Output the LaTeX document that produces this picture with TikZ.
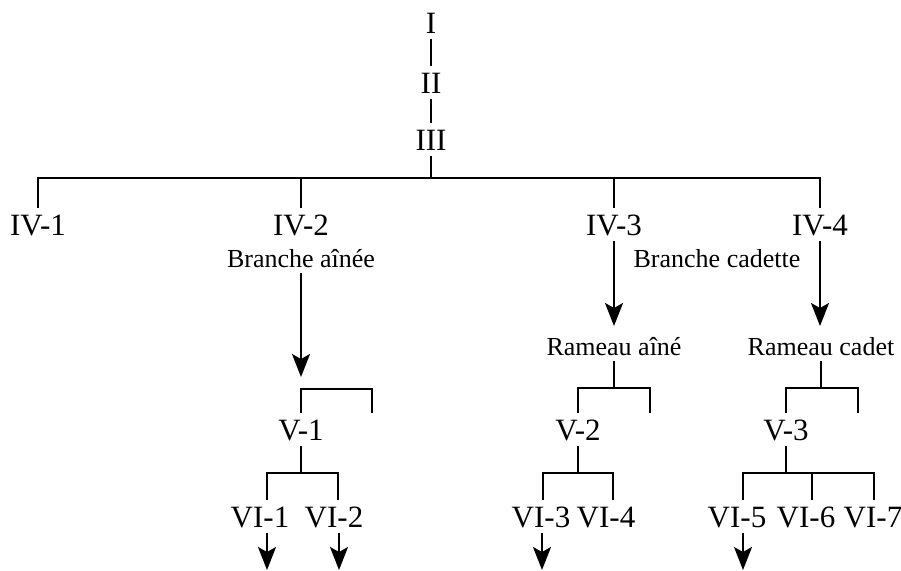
\documentclass[tikz,border=0pt]{standalone}
\usepackage{fontspec}
\setmainfont{Liberation Serif}
\usetikzlibrary{arrows.meta}
\begin{document}
\begin{tikzpicture}[x=1pt,y=-1pt,line width=2pt,
  big/.style={font=\fontsize{31}{31}\selectfont,anchor=base,text height=21pt,text depth=0pt,inner xsep=0pt,inner ysep=5pt},
  small/.style={font=\fontsize{26}{26}\selectfont,anchor=base,text height=18pt,text depth=0pt,inner xsep=0pt,inner ysep=5pt},
  arr/.style={-{Stealth[length=23pt,width=18pt,inset=5pt]}}]
\useasboundingbox (0,0) rectangle (901,570);

% trunk
\node[big] (g1) at (431,33) {I};
\node[big] (g2) at (431,93) {II};
\node[big] (g3) at (431,150) {III};
\draw (g1.south) -- (g2.north);
\draw (g2.south) -- (g3.north);

% fourth generation
\coordinate (t1) at (38,178);
\coordinate (t4) at (820,178);
\node[big] (iv1) at (38,235) {IV-1};
\node[big] (iv2) at (301,235) {IV-2};
\node[big] (iv3) at (614,235) {IV-3};
\node[big] (iv4) at (820,235) {IV-4};
\draw (g3.south) -- (g3.south |- t1);
\draw (iv1.north) -- (t1) -- (t4) -- (iv4.north);
\draw (iv2.north) -- (iv2.north |- t1);
\draw (iv3.north) -- (iv3.north |- t1);

% branches
\node[small] (ba) at (301,267) {Branche aînée};
\node[small] (bc) at (717,267) {Branche cadette};
\coordinate (baend) at (301,377);
\draw[arr] (ba.south) -- (baend);

\node[small] (ra) at (614,355) {Rameau aîné};
\node[small] (rc) at (821,355) {Rameau cadet};
\draw[arr,shorten >=5pt] (iv3.south) -- (iv3.south |- ra.north);
\draw[arr,shorten >=5pt] (iv4.south) -- (iv4.south |- rc.north);

% fifth generation
\node[big] (v1) at (301,440) {V-1};
\node[big] (v2) at (578,440) {V-2};
\node[big] (v3) at (786,440) {V-3};

\coordinate (k1) at (301,389); \coordinate (k2) at (372,389);
\draw (v1.north) -- (k1) -- (k2) -- (k2 |- v1.north);

\coordinate (k3) at (578,388); \coordinate (k4) at (650,388);
\draw (v2.north) -- (k3) -- (k4) -- (k4 |- v2.north);
\draw (ra.south) -- (ra.south |- k3);

\coordinate (k5) at (786,388); \coordinate (k6) at (858,388);
\draw (v3.north) -- (k5) -- (k6) -- (k6 |- v3.north);
\draw (rc.south) -- (rc.south |- k5);

% sixth generation
\node[big] (vi1) at (260,527) {VI-1};
\node[big] (vi2) at (334,527) {VI-2};
\node[big] (vi3) at (541,527) {VI-3};
\node[big] (vi4) at (606,527) {VI-4};
\node[big] (vi5) at (737,527) {VI-5};
\node[big] (vi6) at (806,527) {VI-6};
\node[big] (vi7) at (873,527) {VI-7};

\coordinate (c1) at (267,473); \coordinate (c2) at (338,473);
\draw (v1.south) -- (v1.south |- c1);
\draw (c1 |- vi1.north) -- (c1) -- (c2) -- (c2 |- vi2.north);

\coordinate (c3) at (543,473); \coordinate (c4) at (613,473);
\draw (v2.south) -- (v2.south |- c3);
\draw (c3 |- vi3.north) -- (c3) -- (c4) -- (c4 |- vi4.north);

\coordinate (c5) at (743,473); \coordinate (c6) at (812,473); \coordinate (c7) at (874,473);
\draw (v3.south) -- (v3.south |- c5);
\draw (c5 |- vi5.north) -- (c5) -- (c7) -- (c7 |- vi7.north);
\draw (c6) -- (c6 |- vi6.north);

% descendants continue
\coordinate (e1) at (267,570);
\coordinate (e2) at (339,570);
\coordinate (e3) at (542,570);
\coordinate (e5) at (743,570);
\draw[arr] (e1 |- vi1.south) -- (e1);
\draw[arr] (e2 |- vi2.south) -- (e2);
\draw[arr] (e3 |- vi3.south) -- (e3);
\draw[arr] (e5 |- vi5.south) -- (e5);
\end{tikzpicture}
\end{document}
